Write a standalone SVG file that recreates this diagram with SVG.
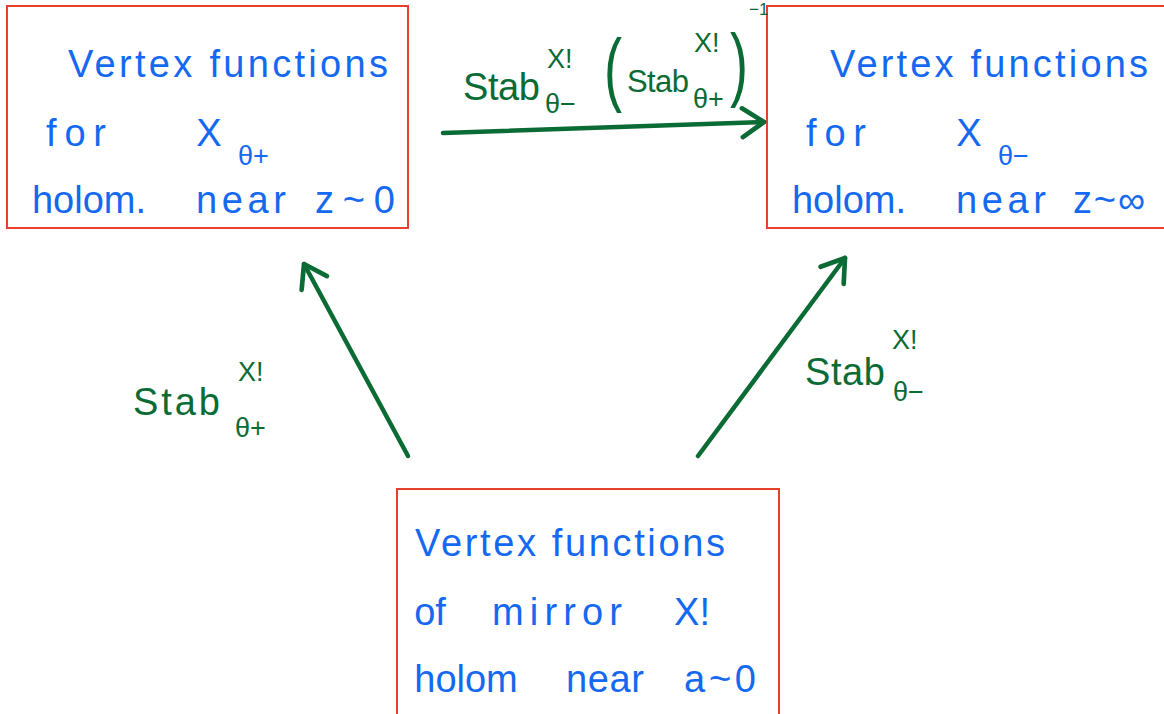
<svg xmlns="http://www.w3.org/2000/svg" width="1164" height="714" viewBox="0 0 1164 714">
<defs>
<style>
.box{fill:#fff;stroke:#e8402c;stroke-width:2}
.b{fill:#1469f0;font-family:"Liberation Sans",Arial,sans-serif;font-size:38px;text-anchor:middle}
.bs{fill:#1469f0;font-family:"Liberation Sans",Arial,sans-serif;font-size:27px}
.g{fill:#0b6b35;font-family:"Liberation Sans",Arial,sans-serif;font-size:38px}
.gs{fill:#0b6b35;font-family:"Liberation Sans",Arial,sans-serif;font-size:27px}
.arr{fill:none;stroke:#0b6b35;stroke-width:4.5;stroke-linecap:round;marker-end:url(#ah)}
</style>
<marker id="ah" viewBox="0 0 20 20" refX="16" refY="10" markerWidth="8" markerHeight="8" markerUnits="strokeWidth" orient="auto">
<polyline points="4,2 16,10 4,18" fill="none" stroke="#0b6b35" stroke-width="2.6" stroke-linecap="round" stroke-linejoin="round"/>
</marker>
</defs>
<rect width="1164" height="714" fill="#fff"/>
<g id="node-xplus">
<rect class="box" x="7" y="6" width="401" height="222"/>
<text class="b" x="228" y="77" textLength="320" lengthAdjust="spacing">Vertex functions</text>
<text class="b" x="76" y="146" textLength="60" lengthAdjust="spacing">for</text>
<text class="b" x="209" y="146">X</text>
<text class="bs" x="238" y="165">θ+</text>
<text class="b" x="89" y="213">holom.</text>
<text class="b" x="241" y="213" textLength="90" lengthAdjust="spacing">near</text>
<text class="b" x="355" y="213" textLength="80" lengthAdjust="spacing">z~0</text>
</g>
<g id="node-xminus">
<rect class="box" x="767" y="6" width="400" height="222"/>
<text class="b" x="989" y="77" textLength="318" lengthAdjust="spacing">Vertex functions</text>
<text class="b" x="836" y="146" textLength="60" lengthAdjust="spacing">for</text>
<text class="b" x="969" y="146">X</text>
<text class="bs" x="998" y="165">θ−</text>
<text class="b" x="849" y="213">holom.</text>
<text class="b" x="1001" y="213" textLength="90" lengthAdjust="spacing">near</text>
<text class="b" x="1109" y="213" textLength="72" lengthAdjust="spacing">z~∞</text>
</g>
<g id="node-mirror">
<rect class="box" x="397" y="489" width="382" height="230"/>
<text class="b" x="570" y="556" textLength="310" lengthAdjust="spacing">Vertex functions</text>
<text class="b" x="430" y="625">of</text>
<text class="b" x="557" y="625" textLength="130" lengthAdjust="spacing">mirror</text>
<text class="b" x="692" y="625">X!</text>
<text class="b" x="466" y="692">holom</text>
<text class="b" x="605" y="692" textLength="78" lengthAdjust="spacing">near</text>
<text class="b" x="720" y="692" textLength="72" lengthAdjust="spacing">a~0</text>
</g>
<g id="connectors">
<path class="arr" d="M443,133 L764,122"/>
<path class="arr" d="M408,456 L304,264"/>
<path class="arr" d="M698,456 L845,258"/>
</g>
<g id="labels">
<text class="g" x="463" y="100" textLength="77" lengthAdjust="spacing">Stab</text>
<text class="gs" x="547" y="68">X!</text>
<text class="gs" x="545" y="113">θ−</text>
<text class="g" x="604" y="96" style="font-size:82px" textLength="18" lengthAdjust="spacingAndGlyphs">(</text>
<text class="g" x="627" y="92" style="font-size:31px" textLength="62" lengthAdjust="spacing">Stab</text>
<text class="gs" x="694" y="52">X!</text>
<text class="gs" x="693" y="108">θ+</text>
<text class="g" x="730" y="91" style="font-size:82px" textLength="18" lengthAdjust="spacingAndGlyphs">)</text>
<text class="gs" x="749" y="15" style="font-size:17px">−1</text>
<text class="g" x="133" y="415" textLength="87" lengthAdjust="spacing">Stab</text>
<text class="gs" x="238" y="381">X!</text>
<text class="gs" x="235" y="437">θ+</text>
<text class="g" x="805" y="385" textLength="80" lengthAdjust="spacing">Stab</text>
<text class="gs" x="892" y="349">X!</text>
<text class="gs" x="893" y="401">θ−</text>
</g>
</svg>
